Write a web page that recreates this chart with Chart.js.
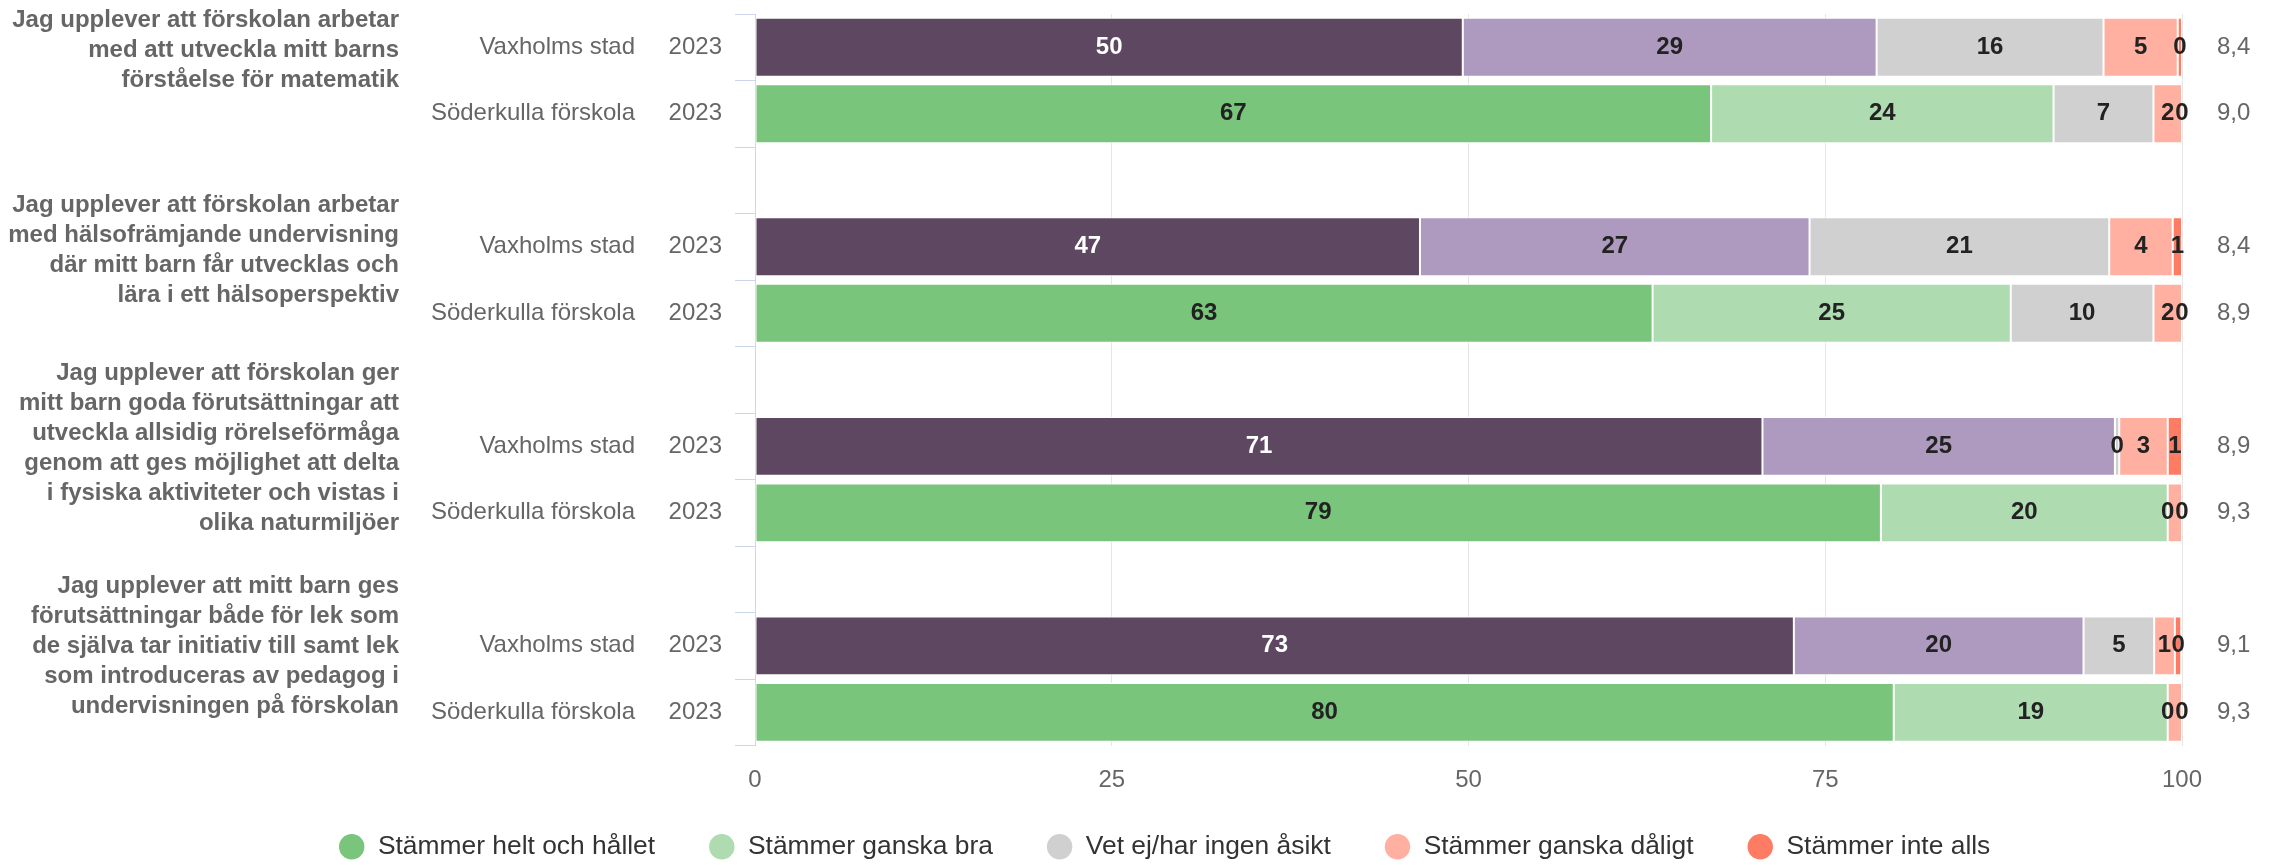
<!DOCTYPE html>
<html>
<head>
<meta charset="utf-8">
<script src="https://cdn.jsdelivr.net/npm/chart.js@4.4.0/dist/chart.umd.min.js"></script>
<style>
  html, body { margin: 0; padding: 0; background: #fff; }
  #wrap { position: relative; width: 2271px; height: 865px; }
</style>
</head>
<body>
<div id="wrap"><canvas id="c"></canvas></div>
<script>
// ---------- DATA ----------
const questions = [
  ["Jag upplever att förskolan arbetar", "med att utveckla mitt barns", "förståelse för matematik"],
  ["Jag upplever att förskolan arbetar", "med hälsofrämjande undervisning", "där mitt barn får utvecklas och", "lära i ett hälsoperspektiv"],
  ["Jag upplever att förskolan ger", "mitt barn goda förutsättningar att", "utveckla allsidig rörelseförmåga", "genom att ges möjlighet att delta", "i fysiska aktiviteter och vistas i", "olika naturmiljöer"],
  ["Jag upplever att mitt barn ges", "förutsättningar både för lek som", "de själva tar initiativ till samt lek", "som introduceras av pedagog i", "undervisningen på förskolan"]
];
const units = ["Vaxholms stad", "Söderkulla förskola", "Vaxholms stad", "Söderkulla förskola", "Vaxholms stad", "Söderkulla förskola", "Vaxholms stad", "Söderkulla förskola"];
const years = ["2023", "2023", "2023", "2023", "2023", "2023", "2023", "2023"];
const seriesNames = ["Stämmer helt och hållet", "Stämmer ganska bra", "Vet ej/har ingen åsikt", "Stämmer ganska dåligt", "Stämmer inte alls"];

const helt          = [49.6, 67.0, 46.6, 62.9, 70.6, 78.9, 72.8, 79.8];
const ganskaBra     = [29.0, 24.0, 27.3, 25.1, 24.7, 20.1, 20.3, 19.2];
const vetEj         = [15.9, 7.0, 21.0, 10.0, 0.3, 0, 4.95, 0];
const ganskaDaligt  = [5.2, 2.0, 4.45, 2.0, 3.4, 1.0, 1.45, 1.0];
const inteAlls      = [0.3, 0, 0.65, 0, 1.0, 0, 0.45, 0];
const indexValues   = ["8,4", "9,0", "8,4", "8,9", "8,9", "9,3", "9,1", "9,3"];
const xTicks = [0, 25, 50, 75, 100];

// ---------- STYLE ----------
const colorsVax = ["#5e4760", "#ae99bf", "#d0d0d0", "#ffb0a1", "#ff7c64"];
const colorsSod = ["#78c57b", "#aedcb0", "#d0d0d0", "#ffb0a1", "#ff7c64"];
const FONT = '"Liberation Sans", Arial, Helvetica, sans-serif';
Chart.defaults.font.family = FONT;
const questionOffsets = [3, 4, 2, 1];

// rows -> slots (blank slot between question groups)
const slotOf = [0, 1, 3, 4, 6, 7, 9, 10];
const NSLOTS = 11;
function toSlots(arr) {
  const out = new Array(NSLOTS).fill(null);
  arr.forEach((v, i) => { out[slotOf[i]] = v; });
  return out;
}
const slotLabels = toSlots(units).map(v => v === null ? "" : v);
const isVaxSlot = s => { const r = slotOf.indexOf(s); return r >= 0 && r % 2 === 0; };

const seriesValues = [helt, ganskaBra, vetEj, ganskaDaligt, inteAlls];
const datasets = seriesValues.map((vals, si) => ({
  label: seriesNames[si],
  data: toSlots(vals),
  backgroundColor: Array.from({length: NSLOTS}, (_, s) => isVaxSlot(s) ? colorsVax[si] : colorsSod[si]),
  borderColor: "#ffffff",
  borderWidth: 1,
  borderSkipped: false,
  barPercentage: 0.885,
  categoryPercentage: 1.0
}));

// ---------- PLUGINS ----------
const labelsPlugin = {
  id: "sideLabels",
  afterDraw(chart) {
    const ctx = chart.ctx;
    const ys = chart.scales.y;
    ctx.save();
    ctx.textBaseline = "middle";
    ctx.fillStyle = "#666666";
    ctx.font = "bold 24px " + FONT;
    ctx.textAlign = "right";
    const lh = 30;
    questions.forEach((lines, q) => {
      const yc = ys.getPixelForValue(slotOf[q * 2]) + questionOffsets[q];
      const y0 = yc - (lines.length - 1) / 2 * lh;
      lines.forEach((t, i) => ctx.fillText(t, 399, y0 + i * lh));
    });
    ctx.font = "24px " + FONT;
    units.forEach((u, r) => {
      const y = ys.getPixelForValue(slotOf[r]);
      ctx.textAlign = "right";
      ctx.fillText(u, 635, y);
      ctx.fillText(years[r], 722, y);
      ctx.textAlign = "left";
      ctx.fillText(indexValues[r], 2217, y);
    });
    ctx.restore();
  }
};

const dataLabelsPlugin = {
  id: "barLabels",
  afterDatasetsDraw(chart) {
    const ctx = chart.ctx;
    ctx.save();
    ctx.font = "bold 24px " + FONT;
    ctx.textAlign = "center";
    ctx.textBaseline = "middle";
    const boxes = {};
    chart.data.datasets.forEach((ds, di) => {
      const meta = chart.getDatasetMeta(di);
      meta.data.forEach((bar, idx) => {
        const v = ds.data[idx];
        if (v === null || v === undefined) return;
        const txt = String(Math.round(v));
        const cx = (bar.x + bar.base) / 2;
        const w = ctx.measureText(txt).width;
        const l = cx - w / 2, r = cx + w / 2;
        const list = boxes[idx] || (boxes[idx] = []);
        if (list.some(b => Math.min(r, b.r) - Math.max(l, b.l) > 2)) return;
        list.push({l, r});
        ctx.fillStyle = (di === 0 && isVaxSlot(idx)) ? "#ffffff" : "#222222";
        ctx.fillText(txt, cx, bar.y);
      });
    });
    ctx.restore();
  }
};

// ---------- CHART ----------
new Chart(document.getElementById("c"), {
  type: "bar",
  data: { labels: slotLabels, datasets },
  options: {
    indexAxis: "y",
    responsive: true,
    maintainAspectRatio: false,
    animation: false,
    layout: { padding: { left: 147, right: 89, top: 14, bottom: -5 } },
    scales: {
      x: {
        type: "linear",
        stacked: true,
        min: 0, max: 100,
        afterBuildTicks: s => { s.ticks = xTicks.map(v => ({ value: v })); },
        ticks: { color: "#666666", font: { size: 24 }, padding: 20, maxRotation: 0 },
        grid: { color: "#e6e6e6", lineWidth: 1, drawTicks: false },
        border: { display: false },
        afterFit: s => { s.paddingLeft = 0; s.paddingRight = 0; s.height = 49; }
      },
      y: {
        type: "category",
        stacked: true,
        offset: true,
        ticks: { display: false },
        grid: { offset: true, drawOnChartArea: false, drawTicks: true, tickLength: 20, color: "#ccd6eb", lineWidth: 1 },
        border: { display: true, color: "#ccd6eb", width: 1 },
        afterFit: s => { s.width = 608; s.paddingTop = 0; s.paddingBottom = 0; }
      }
    },
    plugins: {
      tooltip: { enabled: false },
      title: { display: false },
      legend: {
        display: true,
        position: "bottom",
        align: "center",
        labels: {
          usePointStyle: true,
          pointStyle: "circle",
          boxWidth: 26,
          boxHeight: 18,
          padding: 39,
          color: "#333333",
          font: { size: 26.4 },
          generateLabels: () => seriesNames.map((n, i) => ({
            text: i < seriesNames.length - 1 ? n + "\u00A0\u00A0" : n,
            fillStyle: colorsSod[i],
            strokeStyle: colorsSod[i],
            lineWidth: 0,
            pointStyle: "circle",
            hidden: false,
            datasetIndex: i,
            fontColor: "#333333"
          }))
        }
      }
    }
  },
  plugins: [dataLabelsPlugin, labelsPlugin]
});
</script>
</body>
</html>
